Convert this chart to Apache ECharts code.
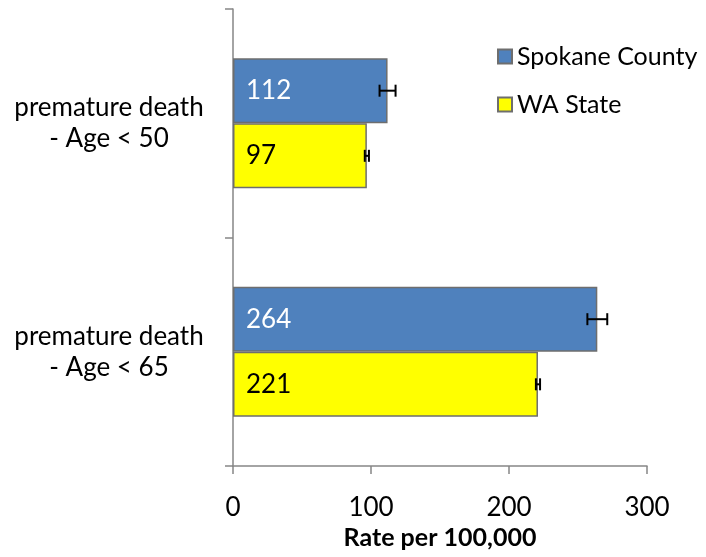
<!DOCTYPE html>
<html>
<head>
<meta charset="utf-8">
<script src="https://cdn.jsdelivr.net/npm/echarts@6/dist/echarts.min.js"></script>
<style>
  html, body { margin: 0; padding: 0; background: #fff; }
  #chart { width: 706px; height: 557px; }
</style>
</head>
<body>
<div id="chart"></div>
<script>
// values
const categories = ['premature death\n- Age < 50', 'premature death\n- Age < 65']
const spokane = [112, 264]
const spokaneErr = [5.8, 7.2]
const waState = [97, 221]
const waErr = [1.5, 1.5]
const seriesNames = ['Spokane County', 'WA State']
const xTicks = [0, 100, 200, 300]

const font = 'Lato, "Open Sans", sans-serif'
const axisGray = '#868686'
const barGap = 0.43

// error bar drawn at the centre of its bar, shifted up/down inside the band
function errorBars(vals, errs, side) {
  return {
    type: 'custom',
    silent: true,
    z: 5,
    data: vals.map((v, i) => [v - errs[i], v + errs[i], i]),
    renderItem: (params, api) => {
      const lo = api.coord([api.value(0), api.value(2)])
      const hi = api.coord([api.value(1), api.value(2)])
      const band = api.size([0, 1])[1]
      const barH = band * (1 - barGap) / 2
      const y = lo[1] + side * barH / 2
      const cap = 6
      const st = { stroke: '#000', lineWidth: 2 }
      return {
        type: 'group',
        children: [
          { type: 'line', shape: { x1: lo[0], y1: y, x2: hi[0], y2: y }, style: st },
          { type: 'line', shape: { x1: lo[0], y1: y - cap, x2: lo[0], y2: y + cap }, style: st },
          { type: 'line', shape: { x1: hi[0], y1: y - cap, x2: hi[0], y2: y + cap }, style: st }
        ]
      }
    }
  }
}

let myChart = echarts.init(document.getElementById('chart'))
myChart.setOption({
  animation: false,
  textStyle: { fontFamily: font },
  grid: { left: 233, right: 59, top: 9, bottom: 91, outerBoundsMode: 'none', containLabel: false },
  legend: {
    orient: 'vertical',
    left: 497,
    top: 44,
    padding: 0,
    itemWidth: 14,
    itemHeight: 14,
    itemGap: 23,
    icon: 'rect',
    data: seriesNames,
    textStyle: { fontFamily: font, fontSize: 25, color: '#000' }
  },
  xAxis: {
    type: 'value',
    min: xTicks[0],
    max: xTicks[xTicks.length - 1],
    interval: 100,
    name: 'Rate per 100,000',
    nameLocation: 'middle',
    nameGap: 57,
    nameTextStyle: { fontFamily: font, fontSize: 25, fontWeight: 'bold', color: '#000' },
    axisLine: { show: true, lineStyle: { color: axisGray, width: 1.5 } },
    axisTick: { show: true, length: 8, lineStyle: { color: axisGray, width: 1.5 } },
    axisLabel: { fontSize: 26, color: '#000', margin: 29, fontFamily: font },
    splitLine: { show: false }
  },
  yAxis: {
    type: 'category',
    inverse: true,
    data: categories,
    axisLine: { show: true, lineStyle: { color: axisGray, width: 1.5 } },
    axisTick: { show: true, length: 8, lineStyle: { color: axisGray, width: 1.5 } },
    axisLabel: {
      fontSize: 26, color: '#000', align: 'center', margin: 124,
      lineHeight: 31, padding: [6, 0, 0, 0], fontFamily: font
    }
  },
  series: [
    {
      name: seriesNames[0],
      type: 'bar',
      data: spokane,
      barGap: '0%',
      barCategoryGap: (barGap * 100) + '%',
      itemStyle: { color: '#4F81BD', borderColor: '#6e6e6e', borderWidth: 1.5 },
      label: {
        show: true, position: 'insideLeft', distance: 13,
        color: '#fff', fontSize: 26, fontFamily: font
      }
    },
    {
      name: seriesNames[1],
      type: 'bar',
      data: waState,
      barGap: '0%',
      barCategoryGap: (barGap * 100) + '%',
      itemStyle: { color: '#FFFF00', borderColor: '#6e6e6e', borderWidth: 1.5 },
      label: {
        show: true, position: 'insideLeft', distance: 13,
        color: '#000', fontSize: 26, fontFamily: font
      }
    },
    errorBars(spokane, spokaneErr, -1),
    errorBars(waState, waErr, 1)
  ]
})
</script>
</body>
</html>
